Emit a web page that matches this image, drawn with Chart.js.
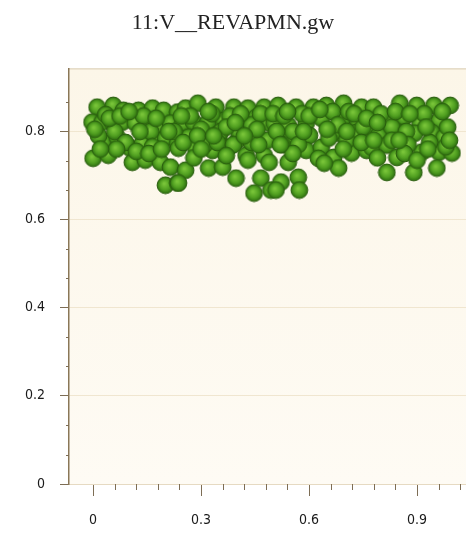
<!DOCTYPE html>
<html>
<head>
<meta charset="utf-8">
<script src="https://cdn.jsdelivr.net/npm/chart.js@4/dist/chart.umd.min.js"></script>
<style>
  html, body { margin: 0; padding: 0; background: #fff; }
  #plot { display: block; }
</style>
</head>
<body>
<canvas id="plot" width="466" height="540"></canvas>
<script>
// chart title and tick labels
const titleText = '11:V__REVAPMN.gw';
const xTicks = [0, 0.3, 0.6, 0.9];
const yTicks = [0, 0.2, 0.4, 0.6, 0.8];

// scatter values
const xVals = [
  0.011, 0.056, 0.084, 0.126, 0.165, 0.196, 0.235, -0.003, 0.025, 0.053, 0.081, 0.117, 0.151, 0.182, 0.215,
  0.028, 0.067, 0.103, 0.137, 0.173, 0.201, 0.235, 0.000, 0.042, 0.109, 0.145, 0.187, 0.215, 0.201, 0.235,
  0.257, 0.291, 0.341, 0.391, 0.430, 0.475, 0.249, 0.279, 0.318, 0.363, 0.416, 0.453, 0.489,
  0.265, 0.304, 0.349, 0.402, 0.453, 0.237, 0.285, 0.332, 0.377, 0.425, 0.475, 0.489,
  0.257, 0.321, 0.360, 0.430, 0.237, 0.397, 0.466, 0.447, 0.494,
  0.514, 0.564, 0.612, 0.648, 0.696, 0.746, 0.503, 0.542, 0.592, 0.634, 0.690, 0.737,
  0.514, 0.550, 0.601, 0.682, 0.732, 0.765, 0.592, 0.634, 0.668, 0.718, 0.760, 0.626, 0.682, 0.642,
  0.542, 0.522, 0.570, 0.508, 0.573,
  0.779, 0.852, 0.899, 0.947, 0.992, 0.768, 0.816, 0.863, 0.908, 0.961, 0.793, 0.852, 0.894, 0.941, 0.975,
  0.774, 0.816, 0.844, 0.913, 0.961, 0.997, 0.816, 0.891, 0.955,
  0.035, 0.140, 0.160, 0.225, 0.270, 0.300, 0.330, 0.355, 0.380, 0.405, 0.440, 0.465, 0.500, 0.530,
  0.555, 0.580, 0.665, 0.670, 0.710, 0.705, 0.750, 0.800, 0.830, 0.870, 0.920, 0.985, 0.015, 0.060,
  0.090, 0.165, 0.250, 0.310, 0.345, 0.390, 0.440, 0.485, 0.525, 0.570, 0.655, 0.695, 0.745, 0.790,
  0.830, 0.875, 0.935, 0.980, 0.865, 0.900, 0.555, 0.460, 0.370, 0.280, 0.065, 0.120,
  0.005, 0.045, 0.075, 0.100, 0.130, 0.175, 0.210, 0.245, 0.290, 0.320, 0.370, 0.410, 0.455, 0.510,
  0.540, 0.600, 0.630, 0.680, 0.725, 0.760, 0.790, 0.840, 0.880, 0.925, 0.970, 0.020, 0.155, 0.190,
  0.300, 0.335, 0.395, 0.420, 0.520, 0.585, 0.650, 0.705, 0.780, 0.850, 0.930, 0.990
];
const yVals = [
  0.855, 0.859, 0.848, 0.848, 0.853, 0.848, 0.844, 0.821, 0.821, 0.821, 0.821, 0.819, 0.821, 0.810, 0.819,
  0.776, 0.787, 0.762, 0.773, 0.780, 0.785, 0.773, 0.739, 0.746, 0.730, 0.735, 0.730, 0.719, 0.678, 0.683,
  0.853, 0.864, 0.855, 0.855, 0.853, 0.855, 0.819, 0.821, 0.819, 0.825, 0.819, 0.832, 0.819,
  0.787, 0.785, 0.787, 0.780, 0.796, 0.762, 0.762, 0.757, 0.764, 0.746, 0.746, 0.730,
  0.712, 0.717, 0.719, 0.735, 0.683, 0.694, 0.694, 0.660, 0.667,
  0.859, 0.855, 0.855, 0.859, 0.864, 0.855, 0.819, 0.814, 0.819, 0.830, 0.825, 0.821,
  0.787, 0.787, 0.791, 0.796, 0.798, 0.798, 0.757, 0.764, 0.741, 0.751, 0.757, 0.739, 0.717, 0.728,
  0.730, 0.685, 0.696, 0.667, 0.667,
  0.855, 0.864, 0.859, 0.859, 0.859, 0.810, 0.825, 0.832, 0.819, 0.825, 0.791, 0.798, 0.796, 0.798, 0.787,
  0.764, 0.769, 0.741, 0.753, 0.753, 0.751, 0.707, 0.707, 0.717,
  0.838, 0.835, 0.800, 0.800, 0.835, 0.805, 0.840, 0.800, 0.835, 0.800, 0.815, 0.840, 0.840, 0.835,
  0.800, 0.840, 0.845, 0.800, 0.845, 0.780, 0.810, 0.840, 0.810, 0.800, 0.840, 0.810, 0.790, 0.800,
  0.775, 0.765, 0.775, 0.770, 0.775, 0.770, 0.775, 0.780, 0.770, 0.770, 0.785, 0.760, 0.775, 0.740,
  0.780, 0.770, 0.775, 0.765, 0.750, 0.735, 0.750, 0.770, 0.745, 0.740, 0.760, 0.755,
  0.805, 0.830, 0.835, 0.845, 0.800, 0.830, 0.800, 0.835, 0.790, 0.845, 0.810, 0.840, 0.805, 0.800,
  0.845, 0.835, 0.850, 0.815, 0.840, 0.830, 0.820, 0.845, 0.840, 0.810, 0.845, 0.760, 0.750, 0.760,
  0.760, 0.790, 0.820, 0.790, 0.770, 0.800, 0.805, 0.800, 0.780, 0.780, 0.760, 0.780
];

const points = xVals.map((x, i) => ({ x: x, y: yVals[i] }));

// shaded green ball used as point style
function makeBall(r) {
  const c = document.createElement('canvas');
  const s = Math.ceil(r * 2 + 2);
  c.width = s; c.height = s;
  const g = c.getContext('2d');
  const cx = s / 2, cy = s / 2;
  const grad = g.createRadialGradient(cx - r * 0.15, cy - r * 0.2, r * 0.1, cx, cy, r);
  grad.addColorStop(0, '#78c438');
  grad.addColorStop(0.6, '#4f9e20');
  grad.addColorStop(1, '#2e6e10');
  g.beginPath();
  g.arc(cx, cy, r, 0, Math.PI * 2);
  g.fillStyle = grad;
  g.fill();
  g.lineWidth = 1;
  g.strokeStyle = '#2a5e0f';
  g.stroke();
  return c;
}
const ball = makeBall(8.4);

const tickFont = { family: "'Liberation Sans Narrow', 'DejaVu Sans Condensed', sans-serif", size: 14 };

const plotBg = {
  id: 'plotBg',
  beforeDraw(chart) {
    const a = chart.chartArea, ctx = chart.ctx;
    ctx.save();
    const grad = ctx.createLinearGradient(0, a.top, 0, a.bottom);
    grad.addColorStop(0, '#fcf6e8');
    grad.addColorStop(1, '#fefbf4');
    ctx.fillStyle = grad;
    ctx.fillRect(a.left, a.top, a.right - a.left, a.bottom - a.top);
    ctx.strokeStyle = '#d8cbb0';
    ctx.lineWidth = 1;
    ctx.beginPath();
    ctx.moveTo(a.left, a.top + 0.5);
    ctx.lineTo(a.right, a.top + 0.5);
    ctx.stroke();
    ctx.restore();
  }
};

// short minor ticks on both axes
const minorTicks = {
  id: 'minorTicks',
  beforeDatasetsDraw(chart) {
    const ctx = chart.ctx, xs = chart.scales.x, ys = chart.scales.y;
    ctx.save();
    ctx.strokeStyle = '#7d6d55';
    ctx.lineWidth = 1;
    ctx.beginPath();
    for (let i = 1; i < 18; i++) {
      const v = i * 0.06;
      if (i % 5 === 0) continue;
      const px = Math.round(xs.getPixelForValue(v)) + 0.5;
      if (px > chart.chartArea.right) break;
      ctx.moveTo(px, xs.top);
      ctx.lineTo(px, xs.top + 6);
    }
    for (let i = 1; i < 14; i++) {
      if (i % 3 === 0) continue;
      const py = Math.round(ys.getPixelForValue(i * 0.2 / 3)) + 0.5;
      ctx.moveTo(ys.right, py);
      ctx.lineTo(ys.right - 3, py);
    }
    ctx.stroke();
    ctx.restore();
  }
};

new Chart(document.getElementById('plot'), {
  type: 'scatter',
  data: {
    datasets: [{
      data: points,
      pointStyle: ball,
      pointRadius: 8,
      pointHoverRadius: 8
    }]
  },
  options: {
    responsive: false,
    animation: false,
    events: [],
    layout: { autoPadding: false, padding: { top: 0, left: 0, right: 0, bottom: 0 } },
    plugins: {
      legend: { display: false },
      tooltip: { enabled: false },
      title: {
        display: true,
        text: titleText,
        color: '#222',
        font: { family: "'Liberation Serif', 'Times New Roman', serif", size: 22, weight: 'normal' },
        padding: { top: 10, bottom: 32 }
      }
    },
    scales: {
      x: {
        type: 'linear',
        min: -0.067,
        max: 1.036,
        afterBuildTicks(s) { s.ticks = xTicks.map(v => ({ value: v })); },
        afterFit(s) { s.height = 56; },
        grid: { drawOnChartArea: false, tickLength: 12, tickColor: '#7d6d55' },
        border: { color: '#e6dac2', width: 1 },
        ticks: { color: '#1a1a1a', font: tickFont, padding: 16, maxRotation: 0, callback: v => String(v) }
      },
      y: {
        type: 'linear',
        min: 0,
        max: 0.943,
        afterBuildTicks(s) { s.ticks = yTicks.map(v => ({ value: v })); },
        afterFit(s) { s.width = 69; },
        grid: { color: ctx => ctx.tick && ctx.tick.value === 0 ? 'rgba(0,0,0,0)' : '#f0e6d0', tickLength: 9, tickColor: '#7d6d55' },
        border: { color: '#8a7757', width: 1.5 },
        ticks: { color: '#1a1a1a', font: tickFont, padding: 15, callback: v => String(v) }
      }
    }
  },
  plugins: [plotBg, minorTicks]
});
</script>
</body>
</html>
